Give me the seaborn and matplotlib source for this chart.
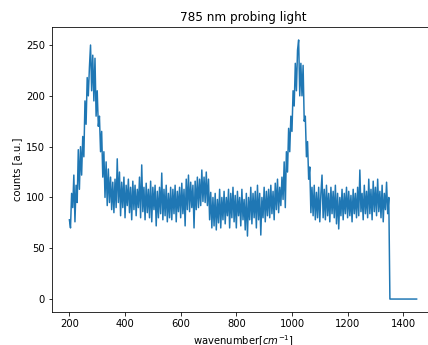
import numpy as np
import pandas as pd
import matplotlib
matplotlib.use("Agg")
import matplotlib.pyplot as plt
import seaborn as sns

# wavenumber grid (cm^-1), 4 cm^-1 steps from 200 to 1448
wn_start, wn_stop, wn_step = 200, 1452, 4

# counts (200 .. 1348 cm^-1)
counts_measured = [
    78, 70, 104, 90, 122, 76, 112, 95, 147, 108,
    150, 122, 160, 140, 195, 172, 218, 200, 228, 250,
    205, 240, 195, 237, 180, 205, 170, 180, 145, 165,
    120, 145, 100, 135, 92, 128, 95, 120, 88, 115,
    85, 118, 90, 138, 95, 125, 82, 115, 90, 120,
    80, 112, 92, 118, 85, 110, 78, 116, 88, 112,
    82, 108, 90, 120, 80, 132, 86, 110, 78, 114,
    85, 108, 80, 116, 76, 110, 88, 112, 72, 106,
    80, 110, 84, 124, 78, 108, 82, 112, 76, 104,
    80, 110, 78, 108, 84, 112, 76, 106, 86, 110,
    80, 114, 84, 108, 72, 118, 88, 122, 86, 115,
    90, 112, 70, 116, 88, 120, 90, 118, 92, 127,
    96, 120, 95, 125, 92, 118, 78, 105, 70, 100,
    72, 104, 68, 98, 75, 108, 70, 100, 78, 106,
    74, 100, 82, 108, 70, 104, 80, 110, 76, 102,
    70, 106, 82, 100, 72, 108, 78, 98, 68, 104,
    62, 100, 78, 110, 74, 104, 80, 106, 70, 112,
    78, 104, 63, 100, 80, 110, 76, 106, 82, 108,
    80, 112, 84, 106, 78, 114, 88, 118, 85, 110,
    92, 120, 98, 135, 90, 145, 125, 168, 145, 180,
    165, 205, 190, 232, 205, 245, 255, 200, 232, 200,
    230, 175, 180, 140, 155, 118, 130, 85, 110, 82,
    112, 78, 105, 80, 110, 76, 104, 122, 80, 108,
    78, 112, 82, 104, 76, 110, 84, 106, 80, 112,
    74, 104, 69, 100, 82, 108, 78, 104, 84, 110,
    80, 106, 82, 102, 76, 108, 84, 104, 80, 110,
    82, 127, 86, 104, 78, 112, 84, 106, 80, 118,
    84, 108, 78, 116, 86, 110, 82, 118, 86, 106,
    80, 112, 76, 104, 88, 115, 84, 100,
]
# detector reads zero beyond 1350 cm^-1
counts_tail = [0] * 25

title_text = "785 nm probing light"
xlabel_text = "wavenumber[$cm^{-1}$]"
ylabel_text = "counts [a.u.]"

wavenumber = np.arange(wn_start, wn_stop, wn_step)
counts = counts_measured + counts_tail
df = pd.DataFrame({"wavenumber": wavenumber, "counts": counts})

fig = plt.figure(figsize=(428 / 72, 345 / 72), dpi=72)
ax = fig.add_axes([52 / 428, 33 / 345, 382 / 428, 285 / 345])
sns.lineplot(data=df, x="wavenumber", y="counts", ax=ax, color="#1f77b4",
             linewidth=1.5, estimator=None)
ax.set_xlim(137.5, 1510.5)
ax.set_ylim(-12.75, 267.75)
ax.spines["right"].set_visible(False)
ax.set_title(title_text)
ax.set_xlabel(xlabel_text)
ax.set_ylabel(ylabel_text)
fig.savefig("out.png", dpi=72)
